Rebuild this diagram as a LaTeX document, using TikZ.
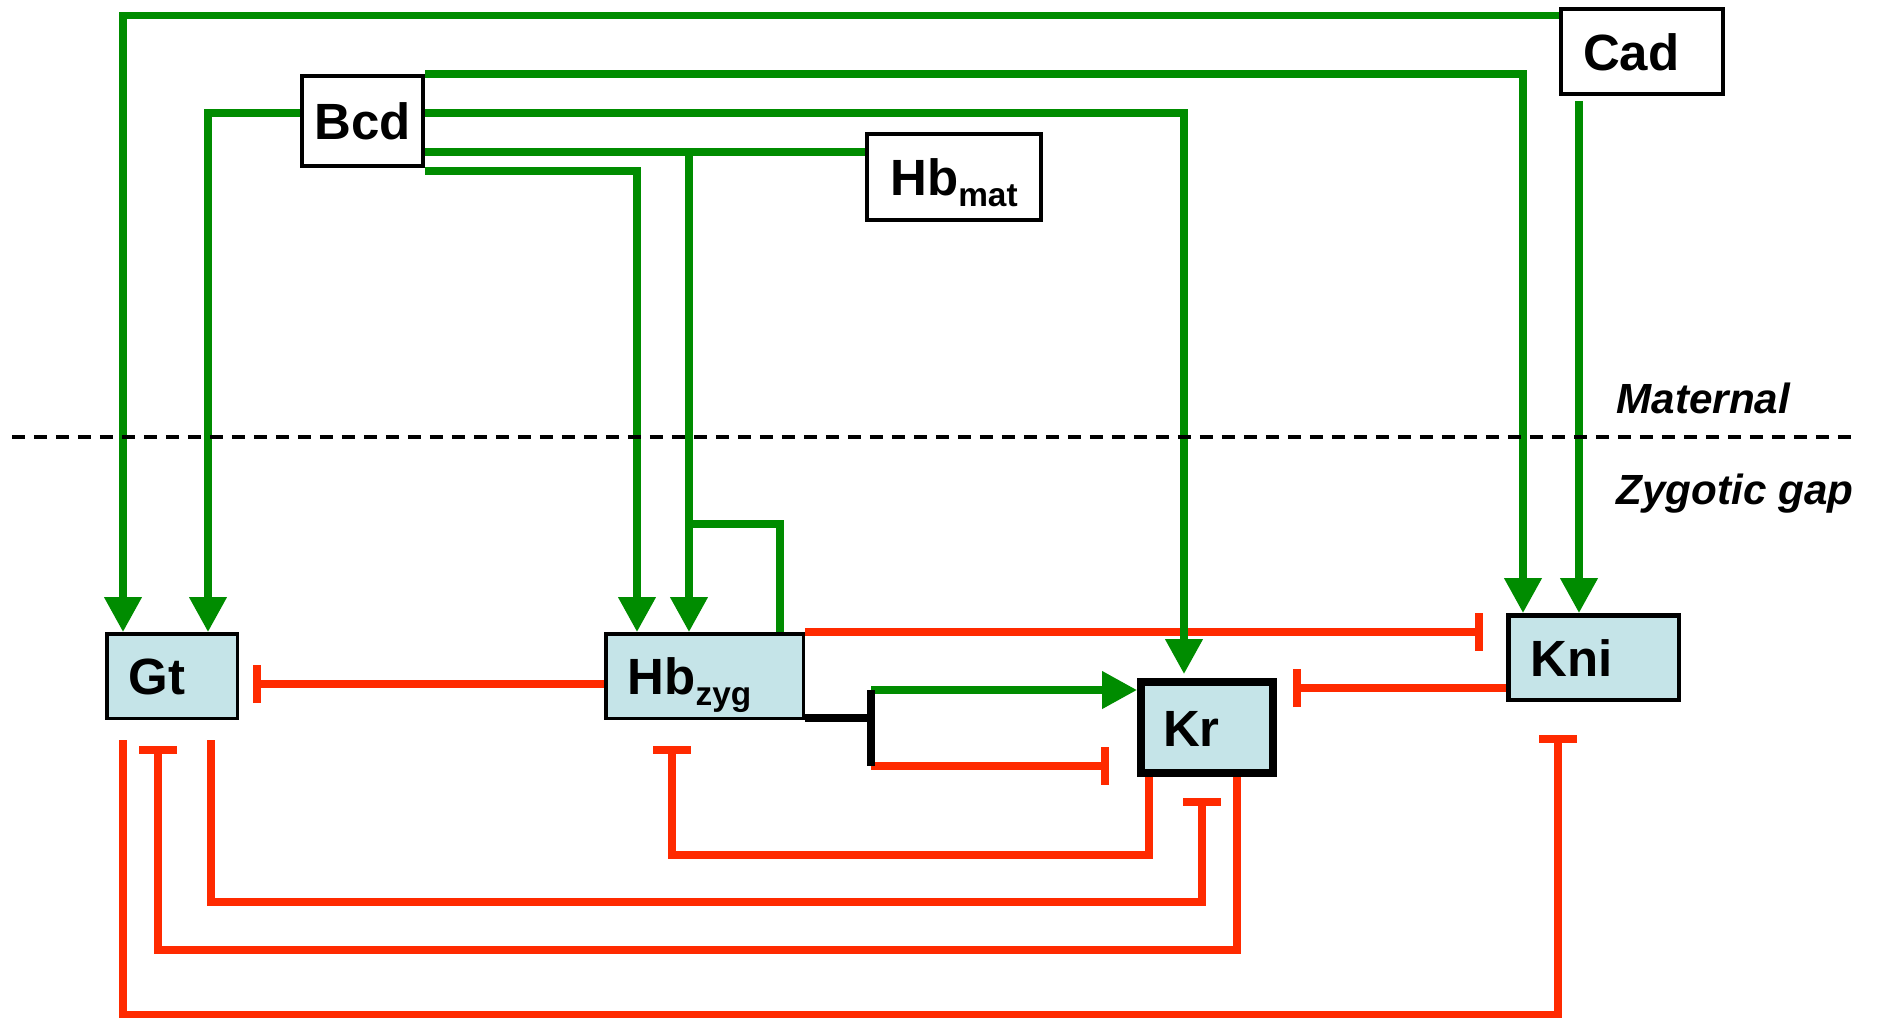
\documentclass[tikz,border=0pt]{standalone}
\usepackage{fontspec}
\setmainfont{Liberation Sans}
\usepackage{tikz}
\usetikzlibrary{arrows.meta,positioning,calc}
\definecolor{actg}{HTML}{008C00}
\definecolor{inhr}{HTML}{FF2A00}
\definecolor{genefill}{HTML}{C5E4E8}
\newcommand{\genefont}{\fontsize{14.5}{16}\selectfont\bfseries}
\newcommand{\lowsub}[1]{\raisebox{-1.1mm}{\fontsize{9.5}{10}\selectfont #1}}
\tikzset{
  input/.style={draw=black,line width=0.4mm,fill=white,font=\genefont,inner sep=0pt,text height=3.75mm,text depth=0pt},
  gene/.style={draw=black,line width=0.35mm,fill=genefill,font=\genefont,align=left,inner xsep=2.2mm,inner ysep=0pt,text height=3.75mm,text depth=0pt},
  act/.style={actg,line width=0.75mm,-{Triangle[length=3.5mm,width=3.6mm]}},
  actline/.style={actg,line width=0.75mm},
  inh/.style={inhr,line width=0.78mm,-{Bar[width=3.8mm]}},
  fork/.style={black,line width=0.75mm},
  layer/.style={font=\fontsize{12}{14}\selectfont\bfseries\itshape,anchor=base west,inner sep=0pt},
}

\begin{document}
\begin{tikzpicture}[x=0.1mm,y=-0.1mm]
\useasboundingbox (0,0) rectangle (1877,1017);
% maternal inputs
\node[input,minimum width=12.1mm,minimum height=9mm] (Bcd) at (362.5,121) {Bcd};
\node[input,minimum width=17.4mm,minimum height=8.6mm] (Hbmat) at (954,177) {Hb\lowsub{mat}};
\node[input,align=left,inner xsep=2.2mm,text width=11.8mm,minimum height=8.5mm] (Cad) at (1642,51.5) {Cad};

% zygotic gap genes
\node[gene,text width=8.65mm,minimum height=8.45mm] (Gt) at (172,676) {Gt};
\node[gene,text width=15.35mm,minimum height=8.45mm] (Hbzyg) at (704.5,676) {Hb\lowsub{zyg}};
\node[gene,line width=0.8mm,text width=8.8mm,minimum height=9.1mm] (Kr) at (1207,727.5) {Kr};
\node[gene,line width=0.45mm,text width=12.65mm,minimum height=8.45mm] (Kni) at (1593.5,657.5) {Kni};

\coordinate (fork) at ($(Hbzyg.south east)+(66,-2)$);
\coordinate (forkup) at ($(fork)+(0,-28)$);
\coordinate (forkdown) at ($(fork)+(0,48)$);
\coordinate (knikr) at ($(Kni.west)+(0,30.5)$);
\coordinate (cadout) at ($(Cad.south west)+(20,5)$);

% repression
\draw[inh] (Hbzyg.north east) -- ($(Hbzyg.north east -| Kni.west)+(-23,0)$);
\draw[inh] ($(Hbzyg.west)+(0,8)$) -- ($(Gt.east)+(14,8)$);
\draw[inh] (knikr) -- ($(knikr -| Kr.east)+(16,0)$);
\draw[inh] (forkdown) -- ($(forkdown -| Kr.west)+(-28,0)$);
\draw[inh] ($(Kr.south west)+(12,0)$) |- ($(Hbzyg.south west)+(68,135)$) -- ($(Hbzyg.south west)+(68,26)$);
\draw[inh] ($(Gt.south west)+(106,20)$) |- ($(Kr.south west)+(65,125)$) -- ($(Kr.south west)+(65,21)$);
\draw[inh] ($(Kr.south west)+(100,0)$) |- ($(Gt.south west)+(53,230)$) -- ($(Gt.south west)+(53,26)$);
\draw[inh] ($(Gt.south west)+(18,20)$) |- ($(Kni.south west)+(52,313)$) -- ($(Kni.south west)+(52,33)$);

% activation
\draw[act] ($(Cad.north west)+(0,8.5)$) -| ($(Gt.north west)+(18,0)$);
\draw[act] ($(Bcd.west)+(0,-8)$) -| ($(Gt.north west)+(103,0)$);
\draw[act] (Bcd.north east) -| ($(Kni.north west)+(17,0)$);
\draw[act] ($(Bcd.east)+(0,-8)$) -| ($(Kr.north west)+(47,-4)$);
\draw[actline] ($(Bcd.east)+(0,31)$) -- ($(Hbmat.west)+(0,-25)$);
\draw[act] ($(Hbmat.west)+(0,-25)$) -| ($(Hbzyg.north west)+(85,0)$);
\draw[act] ($(Bcd.south east)+(0,3)$) -| ($(Hbzyg.north west)+(33,0)$);
\draw[act] (cadout) -- (cadout |- Kni.north);
\draw[actline] ($(Hbzyg.north west)+(176,0)$) |- ($(Hbzyg.north west)+(85,-108)$);
\draw[act] (forkup) -- (forkup -| Kr.west);

% Hb dual effect on Kr
\draw[fork] ($(Hbzyg.south east)+(0,-2)$) -- (fork);
\draw[fork] (forkup) -- (forkdown);

% maternal / zygotic divide
\draw[black,line width=0.4mm,dash pattern=on 1.3mm off 0.9mm] (12,437) -- (1853,437);
\node[layer] (mat) at (1616,413) {Maternal};
\node[layer] (zyg) at (1616,504) {Zygotic gap};
\end{tikzpicture}
\end{document}
